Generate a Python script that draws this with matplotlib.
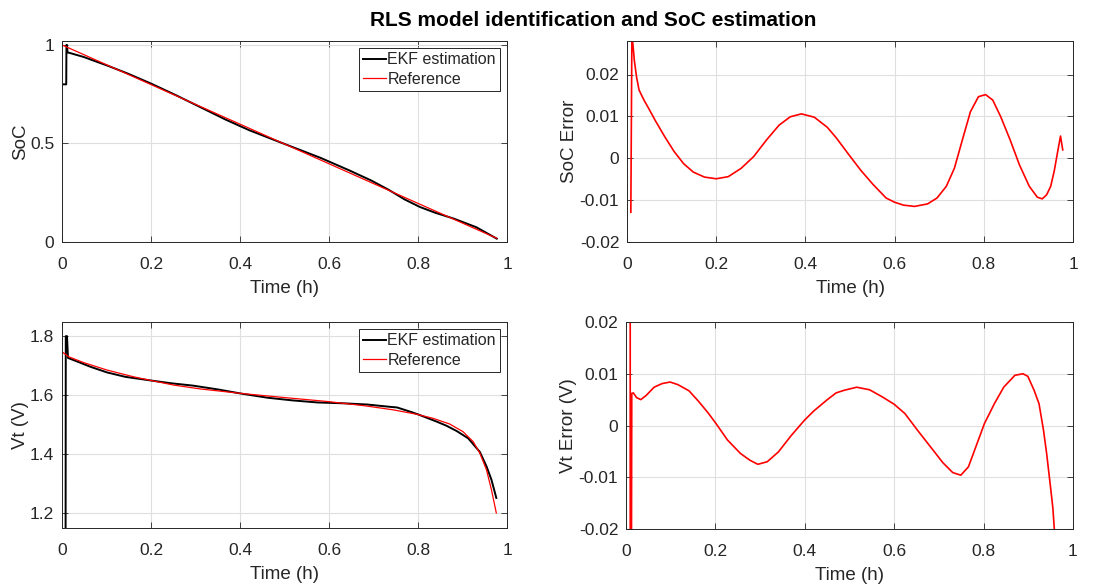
import matplotlib
matplotlib.use("Agg")
import matplotlib.pyplot as plt

# ---------------- data ----------------
soc_ref_t = [0.0, 0.2, 0.4, 0.6, 0.8, 0.977]
soc_ref_v = [1.0, 0.799, 0.598, 0.397, 0.196, 0.019]

soc_ekf_t = [0.0, 0.0095, 0.0100, 0.0112, 0.0125, 0.0164, 0.0486, 0.1057, 0.1486, 0.200,
             0.256, 0.313, 0.366, 0.420, 0.471, 0.5236, 0.581, 0.645, 0.695, 0.734,
             0.770, 0.804, 0.838, 0.880, 0.931, 0.977]
soc_ekf_v = [0.80, 0.80, 1.00, 1.00, 0.962, 0.960, 0.939, 0.892, 0.854, 0.804,
             0.745, 0.682, 0.623, 0.568, 0.523, 0.477, 0.427, 0.364, 0.312, 0.265,
             0.216, 0.178, 0.149, 0.119, 0.075, 0.017]

soc_err_t = [0.0086, 0.0110, 0.0164, 0.0214, 0.027, 0.038, 0.0486, 0.0629, 0.0843, 0.1057,
             0.127, 0.1486, 0.1736, 0.200, 0.227, 0.256, 0.284, 0.313, 0.341, 0.366,
             0.391, 0.420, 0.449, 0.469, 0.495, 0.5236, 0.552, 0.581, 0.600, 0.620,
             0.645, 0.674, 0.695, 0.716, 0.734, 0.752, 0.770, 0.788, 0.804, 0.820,
             0.838, 0.859, 0.880, 0.902, 0.920, 0.931, 0.941, 0.950, 0.958, 0.965,
             0.972, 0.977]
soc_err_v = [-0.0129, 0.0300, 0.0234, 0.0194, 0.0163, 0.0139, 0.0119, 0.0091, 0.0052, 0.0016,
             -0.0013, -0.0033, -0.0045, -0.0049, -0.0044, -0.0024, 0.0004, 0.0044, 0.0079, 0.0099,
             0.0106, 0.0098, 0.0074, 0.0049, 0.0012, -0.0028, -0.0063, -0.0095, -0.0105, -0.0112,
             -0.0115, -0.0109, -0.0095, -0.0067, -0.0024, 0.0044, 0.0111, 0.0147, 0.0152, 0.0139,
             0.0099, 0.0044, -0.0016, -0.0067, -0.0093, -0.0097, -0.0087, -0.0067, -0.0030, 0.0012,
             0.0053, 0.0020]

vt_ref_t = [0.0, 0.015, 0.049, 0.101, 0.161, 0.202, 0.251, 0.310, 0.400, 0.497, 0.598,
            0.684, 0.744, 0.797, 0.834, 0.871, 0.901, 0.924, 0.939, 0.954, 0.965, 0.976]
vt_ref_v = [1.747, 1.730, 1.710, 1.685, 1.662, 1.649, 1.634, 1.621, 1.606, 1.592, 1.578,
            1.563, 1.550, 1.535, 1.521, 1.502, 1.476, 1.442, 1.403, 1.346, 1.279, 1.200]

vt_ekf_t = [0.0, 0.0080, 0.0085, 0.0112, 0.0135, 0.034, 0.064, 0.101, 0.142, 0.202, 0.246,
            0.295, 0.351, 0.403, 0.462, 0.518, 0.574, 0.634, 0.686, 0.738, 0.753, 0.786,
            0.801, 0.842, 0.864, 0.887, 0.913, 0.939, 0.954, 0.965, 0.976]
vt_ekf_v = [1.00, 1.00, 1.80, 1.80, 1.726, 1.714, 1.696, 1.677, 1.662, 1.649, 1.640,
            1.632, 1.619, 1.605, 1.591, 1.582, 1.575, 1.572, 1.568, 1.560, 1.558, 1.542,
            1.534, 1.510, 1.496, 1.478, 1.453, 1.407, 1.358, 1.313, 1.251]

vt_err_t = [0.0, 0.0089, 0.0095, 0.0115, 0.0129, 0.0164, 0.0236, 0.033, 0.045, 0.0629,
            0.0807, 0.0986, 0.116, 0.141, 0.163, 0.184, 0.202, 0.227, 0.256, 0.277,
            0.295, 0.316, 0.341, 0.370, 0.399, 0.420, 0.449, 0.470, 0.488, 0.516,
            0.545, 0.574, 0.600, 0.624, 0.652, 0.681, 0.709, 0.731, 0.749, 0.766,
            0.784, 0.802, 0.824, 0.845, 0.870, 0.888, 0.899, 0.913, 0.924, 0.934,
            0.941, 0.950, 0.955, 0.959, 0.965, 0.976]
vt_err_v = [0.75, 0.75, -0.055, -0.055, 0.0062, 0.0063, 0.0054, 0.0050, 0.0058, 0.0074,
            0.0081, 0.0084, 0.0079, 0.0067, 0.0046, 0.0024, 0.0003, -0.0028, -0.0054, -0.0067,
            -0.0075, -0.0070, -0.0051, -0.0019, 0.0010, 0.0028, 0.0049, 0.0063, 0.0068, 0.0074,
            0.0069, 0.0055, 0.0041, 0.0023, -0.0009, -0.0041, -0.0072, -0.0091, -0.0096, -0.0080,
            -0.0038, 0.0004, 0.0042, 0.0074, 0.0097, 0.0100, 0.0095, 0.0068, 0.0042, -0.0009,
            -0.0054, -0.0121, -0.0160, -0.0210, -0.034, -0.051]

x_ticks = [0, 0.2, 0.4, 0.6, 0.8, 1]
x_ticklabels = ["0", "0.2", "0.4", "0.6", "0.8", "1"]
soc_ticks = [0, 0.5, 1]
soc_ticklabels = ["0", "0.5", "1"]
err_ticks = [-0.02, -0.01, 0, 0.01, 0.02]
err_ticklabels = ["-0.02", "-0.01", "0", "0.01", "0.02"]
vt_ticks = [1.2, 1.4, 1.6, 1.8]
vt_ticklabels = ["1.2", "1.4", "1.6", "1.8"]

title = "RLS model identification and SoC estimation"
xlabel = "Time (h)"
legend_labels = ["EKF estimation", "Reference"]

# ---------------- style ----------------
plt.rcParams['font.family'] = ['Liberation Sans', 'DejaVu Sans']
dark = (0.15, 0.15, 0.15)
W, H = 1106, 588
fig = plt.figure(figsize=(W / 100, H / 100), dpi=100)


def px_axes(left, top, right, bottom):
    return fig.add_axes([left / W, 1 - bottom / H, (right - left) / W, (bottom - top) / H])


def style(ax, yticks, yticklabels, ylim, ylabel):
    ax.set_xlim(0, 1)
    ax.set_ylim(*ylim)
    ax.set_xticks(x_ticks)
    ax.set_xticklabels(x_ticklabels)
    ax.set_yticks(yticks)
    ax.set_yticklabels(yticklabels)
    ax.grid(True, color='#dfdfdf', linewidth=0.8)
    ax.set_axisbelow(True)
    ax.tick_params(direction='in', length=4, width=0.6, colors=dark, labelsize=12.5,
                   top=True, right=True)
    ax.tick_params(axis='x', pad=10.5)
    ax.tick_params(axis='y', pad=5.5)
    for s in ax.spines.values():
        s.set_color(dark)
        s.set_linewidth(0.7)
    ax.set_xlabel(xlabel, fontsize=13.5, color=dark, labelpad=6)
    ax.set_ylabel(ylabel, fontsize=13.5, color=dark, labelpad=1)


ax1 = px_axes(62, 41, 507, 242)
ax1.plot(soc_ekf_t, soc_ekf_v, color='black', lw=1.4, label=legend_labels[0])
ax1.plot(soc_ref_t, soc_ref_v, color='red', lw=0.9, label=legend_labels[1])
style(ax1, soc_ticks, soc_ticklabels, (0, 1.02), "SoC")

ax2 = px_axes(627, 41, 1073, 242)
ax2.plot(soc_err_t, soc_err_v, color='red', lw=1.2)
style(ax2, err_ticks, err_ticklabels, (-0.02, 0.028), "SoC Error")

ax3 = px_axes(62, 322, 507, 528)
ax3.plot(vt_ekf_t, vt_ekf_v, color='black', lw=1.4, label=legend_labels[0])
ax3.plot(vt_ref_t, vt_ref_v, color='red', lw=0.9, label=legend_labels[1])
style(ax3, vt_ticks, vt_ticklabels, (1.149, 1.848), "Vt (V)")

ax4 = px_axes(626, 322, 1073, 529)
ax4.plot(vt_err_t, vt_err_v, color='red', lw=1.2)
style(ax4, err_ticks, err_ticklabels, (-0.02, 0.02), "Vt Error (V)")

for ax in (ax1, ax3):
    leg = ax.legend(loc='upper right', fontsize=11.5, frameon=True, fancybox=False,
                    framealpha=1, edgecolor=dark, handlelength=1.45, handletextpad=0.1,
                    borderpad=0.25, labelspacing=0.28, borderaxespad=0.45)
    leg.get_frame().set_linewidth(0.7)
    for t in leg.get_texts():
        t.set_color(dark)

fig.text(593 / W, 1 - 20 / H, title, ha='center', va='center', fontsize=15,
         fontweight='bold', color='black')

fig.savefig("out.png", dpi=100)
